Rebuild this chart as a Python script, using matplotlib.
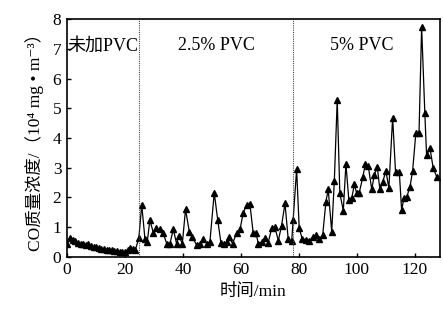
import matplotlib
matplotlib.use("Agg")
import matplotlib.pyplot as plt

# time (min) and CO mass concentration (10^4 mg/m^3)
time_min = [0, 1.0, 2.0, 2.9, 3.8, 4.7, 5.6, 6.5, 7.4, 8.3, 9.2, 10.1, 11.0, 11.9,
            12.8, 13.7, 14.6, 15.5, 16.4, 17.3, 18.2, 19.1, 20.0, 20.9, 21.8, 22.7, 23.6,
            24.8, 25.8, 26.9, 27.7, 28.6, 29.8, 30.7, 32.1, 33.2, 34.4, 35.5, 36.7, 37.8,
            38.6, 39.8, 40.9, 42.2, 43.3, 44.7, 45.9, 47.0, 48.2, 49.3, 50.8, 52.0, 53.1,
            54.2, 55.1, 56.0, 57.1, 58.5, 59.7, 60.8, 62.0, 63.1, 64.2, 65.2, 66.0, 67.1,
            68.3, 69.4, 70.6, 71.7, 72.9, 74.0, 75.2, 76.3, 77.5,
            78.0, 79.2, 80.1, 81.1, 82.4, 83.6, 84.7, 85.9, 87.0, 88.2, 89.3, 90.1, 91.3,
            92.2, 93.2, 94.1, 95.3, 96.2, 97.2, 98.2, 99.1, 99.9, 100.8, 102.0, 102.9,
            103.9, 105.1, 106.0, 107.0, 107.9, 108.9, 110.0, 111.0, 112.3, 113.3, 114.6,
            115.4, 116.2, 117.1, 118.3, 119.2, 120.3, 121.4, 122.3, 123.4, 124.0, 125.2,
            126.3, 127.5]
co_conc = [0.45, 0.65, 0.58, 0.52, 0.47, 0.45, 0.42, 0.40, 0.42, 0.36, 0.34, 0.32, 0.30, 0.28,
           0.28, 0.25, 0.24, 0.22, 0.20, 0.19, 0.17, 0.18, 0.17, 0.24, 0.30, 0.26, 0.24,
           0.63, 1.75, 0.62, 0.50, 1.24, 0.82, 0.96, 0.93, 0.80, 0.45, 0.44, 0.93, 0.45,
           0.71, 0.45, 1.60, 0.85, 0.66, 0.40, 0.45, 0.59, 0.45, 0.50, 2.16, 1.24, 0.48,
           0.44, 0.50, 0.66, 0.45, 0.80, 0.93, 1.49, 1.75, 1.79, 0.82, 0.80, 0.45, 0.50,
           0.63, 0.48, 0.96, 1.00, 0.55, 1.05, 1.80, 0.60, 0.52,
           1.24, 2.95, 0.96, 0.62, 0.58, 0.54, 0.66, 0.74, 0.60, 0.74, 1.86, 2.27, 0.85,
           2.55, 5.28, 2.14, 1.56, 3.13, 1.92, 1.97, 2.44, 2.14, 2.16, 2.68, 3.12,
           3.06, 2.27, 2.76, 3.04, 2.27, 2.53, 2.89, 2.31, 4.68, 2.87, 2.87,
           1.58, 1.97, 2.00, 2.36, 2.90, 4.16, 4.16, 7.74, 4.85, 3.43, 3.65,
           2.98, 2.70]

boundaries = [24.8, 78.0]
stage_labels = ["未加PVC", "2.5% PVC", "5% PVC"]
stage_label_x = [12.4, 51.5, 101.5]
x_ticks = [0, 20, 40, 60, 80, 100, 120]
y_ticks = [0, 1, 2, 3, 4, 5, 6, 7, 8]

fam = ["Liberation Serif", "Noto Sans CJK SC", "DejaVu Serif"]
plt.rcParams["font.family"] = fam

fig = plt.figure(figsize=(4.43, 3.18), dpi=100)
ax = fig.add_axes([0.151, 0.192, 0.842, 0.748])

ax.plot(time_min, co_conc, color="black", lw=0.9, marker="^", ms=4.3,
        markerfacecolor="black", markeredgecolor="black")

for b in boundaries:
    ax.axvline(b, color="#444444", lw=0.8, ls=(0, (1, 1)))

for lab, xp in zip(stage_labels, stage_label_x):
    ax.text(xp, 7.1, lab, ha="center", va="center", fontsize=13,
            family=fam)

ax.set_xlim(0, 128.6)
ax.set_ylim(0, 8)
ax.set_xticks(x_ticks)
ax.set_yticks(y_ticks)
ax.tick_params(direction="in", length=3, width=1, labelsize=12.5, pad=4)
for s in ax.spines.values():
    s.set_linewidth(1.2)

ax.set_xlabel("时间/min", fontsize=12.5, labelpad=4, family=fam)
ax.set_ylabel("CO质量浓度/（10⁴ mg • m⁻³）", fontsize=12.5, labelpad=6, family=fam)

fig.savefig("out.png", dpi=100)
